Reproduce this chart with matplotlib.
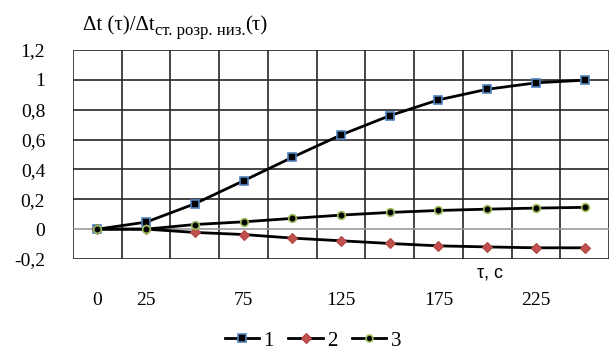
import numpy as np
from matplotlib import pyplot as plt

# data
tau = [0, 25, 50, 75, 100, 125, 150, 175, 200, 225, 250]
tick_labels = ["0", "25", "", "75", "", "125", "", "175", "", "225", ""]
s1 = [0.0, 0.047, 0.17, 0.324, 0.481, 0.631, 0.76, 0.866, 0.937, 0.98, 0.998]
s2 = [0.0, 0.0, -0.022, -0.036, -0.06, -0.078, -0.096, -0.112, -0.119, -0.125, -0.125]
s3 = [0.0, 0.0, 0.031, 0.049, 0.072, 0.094, 0.112, 0.125, 0.134, 0.141, 0.146]
names = ["1", "2", "3"]

plt.rcParams['font.family'] = ['Liberation Serif', 'DejaVu Serif']

fig = plt.figure(figsize=(6.11, 3.54), dpi=100)
ax = fig.add_axes([73 / 611, 1 - 259 / 354, 536 / 611, 209 / 354])

# categories sit between gridlines, like an Excel category axis
pos = np.arange(len(tau))
ax.set_xlim(-0.5, len(tau) - 0.5)
ax.set_ylim(-0.2, 1.2)

for x in np.arange(-0.5, len(tau), 1.0):
    ax.axvline(x, color="#262626", lw=1.2, zorder=1)
for y in np.arange(-0.2, 1.21, 0.2):
    c = "#9a9a9a" if abs(y) < 1e-9 else "#262626"
    ax.axhline(y, color=c, lw=1.2, zorder=1)

ax.plot(pos, s1, "-", color="black", lw=2, marker="s", ms=6,
        mfc="black", mec="#4f81bd", mew=1.2, label=names[0], zorder=3)
ax.plot(pos, s2, "-", color="black", lw=2, marker="D", ms=5.5,
        mfc="#c0504d", mec="#b04541", mew=0.8, label=names[1], zorder=3)
ax.plot(pos, s3, "-", color="black", lw=2, marker="o", ms=5.5,
        mfc="black", mec="#9bbb59", mew=1.2, label=names[2], zorder=3)

for sp in ax.spines.values():
    sp.set_visible(False)
ax.tick_params(length=0)
ax.set_yticks(np.arange(-0.2, 1.21, 0.2))
ax.set_yticklabels(["-0,2", "0", "0,2", "0,4", "0,6", "0,8", "1", "1,2"],
                   fontsize=14)
ax.tick_params(axis="y", pad=20)
ax.set_xticks(pos)
ax.set_xticklabels(tick_labels, fontsize=14)
ax.tick_params(axis="x", pad=24)

fig.text(490 / 611, 1 - 273 / 354, "τ, c", family="Liberation Sans",
         fontsize=13, ha="center", va="center")

# y-axis caption with subscript
r = fig.canvas.get_renderer()
t1 = fig.text(83 / 611, 1 - 30 / 354, "Δt (τ)/Δt", fontsize=15,
              ha="left", va="baseline")
bb = t1.get_window_extent(r)
t2 = fig.text(bb.x1 / 611, 1 - 35 / 354, "ст. розр. низ.",
              fontsize=12, ha="left", va="baseline")
bb2 = t2.get_window_extent(r)
fig.text(bb2.x1 / 611, 1 - 30 / 354, "(τ)", fontsize=15,
         ha="left", va="baseline")

fig.legend(loc="center", bbox_to_anchor=(313 / 611, 1 - 341 / 354),
           ncol=3, frameon=False, fontsize=15, handlelength=1.65,
           handletextpad=0.2, columnspacing=0.7, markerscale=0.9)

fig.savefig("out.png", dpi=100)
